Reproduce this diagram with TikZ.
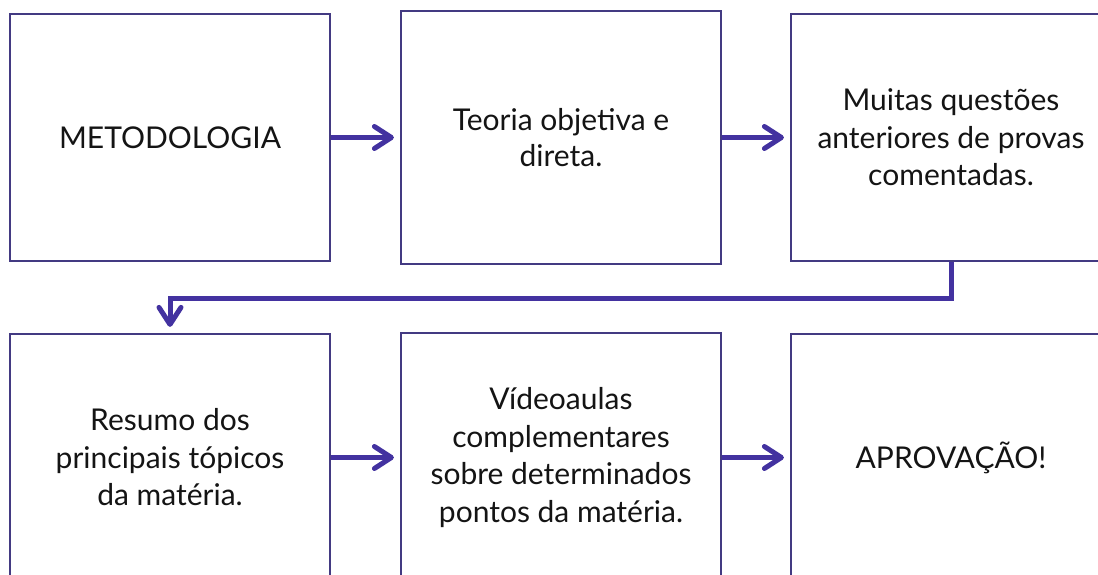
\documentclass[tikz,border=0pt]{standalone}
\usepackage{fontspec}
\setmainfont{Lato}
\usetikzlibrary{arrows.meta}
\definecolor{boxline}{HTML}{433A82}
\definecolor{arrcol}{HTML}{4332A0}
\definecolor{txt}{HTML}{141414}
\tikzset{
  stepbox/.style={draw=boxline, line width=2.2pt, fill=white, inner sep=0pt,
    minimum width=320pt, minimum height=247pt, align=center, text=txt,
    font=\fontsize{30}{37.5}\selectfont},
  arr/.style={draw=arrcol, line width=5pt,
    -{Straight Barb[length=17pt,width=22pt,line width=5pt,round]}, shorten >=6pt}
}
\begin{document}
\begin{tikzpicture}[x=1pt,y=-1pt]
\useasboundingbox (0,0) rectangle (1098,575);
\clip (0,0) rectangle (1098,575);
\fill[white] (0,0) rectangle (1098,575);
\node[stepbox] (b1) at (170,137.5) {METODOLOGIA};
\node[stepbox, minimum height=253pt, font=\fontsize{30}{36}\selectfont] (b2) at (561,137.5) {Teoria objetiva e\\direta.};
\node[stepbox] (b3) at (951,137.5) {Muitas questões\\anteriores de provas\\comentadas.};
\node[stepbox] (b4) at (170,457.5) {Resumo dos\\principais tópicos\\da matéria.};
\node[stepbox, minimum height=249pt] (b5) at (561,457.5) {Vídeoaulas\\complementares\\sobre determinados\\pontos da matéria.};
\node[stepbox] (b6) at (951,457.5) {APROVAÇÃO!};
\draw[arr] (b1.east) -- (b2.west);
\draw[arr] (b2.east) -- (b3.west);
\draw[arr] (b4.east) -- (b5.west);
\draw[arr] (b5.east) -- (b6.west);
\draw[arr] (b3.south) -- ++(0,36) -| (b4.north);
\end{tikzpicture}
\end{document}
